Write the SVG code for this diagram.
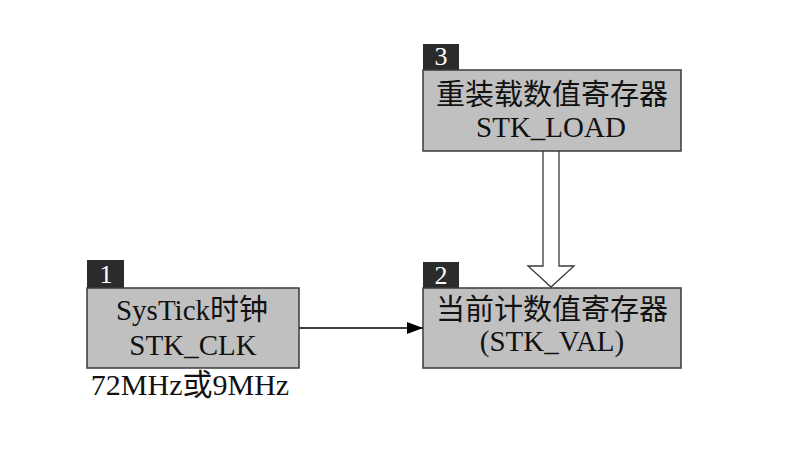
<svg xmlns="http://www.w3.org/2000/svg" width="803" height="449" viewBox="0 0 803 449">
<style>
.box{fill:#c0c0c0;stroke:#3a3a3a;stroke-width:1.5}
.tag{fill:#2b2b2b}
.t{font-family:"Liberation Serif","Noto Sans CJK SC",serif;font-size:29px;fill:#111;text-anchor:middle}
.n{font-family:"Liberation Serif",serif;font-size:26px;fill:#fff;text-anchor:middle}
</style>
<defs>
<marker id="ah" markerWidth="16" markerHeight="12" refX="16" refY="6" orient="auto" markerUnits="userSpaceOnUse">
<path d="M0,0 L16,6 L0,12 Z" fill="#000"/>
</marker>
</defs>
<rect width="803" height="449" fill="#fff"/>
<g id="connectors">
<line x1="299" y1="328" x2="423" y2="328" stroke="#000" stroke-width="1.3" marker-end="url(#ah)"/>
<path d="M543,151 L543,266 L528,266 L551,287 L574,266 L559,266 L559,151" fill="#fff" stroke="#3a3a3a" stroke-width="1.3"/>
</g>
<g id="node1">
<rect class="tag" x="87" y="260" width="37" height="28"/>
<text class="n" x="106" y="283">1</text>
<rect class="box" x="87" y="288" width="212" height="80"/>
<text class="t" x="192" y="320">SysTick时钟</text>
<text class="t" x="193" y="355">STK_CLK</text>
<text class="t" x="190" y="395" style="font-size:30px">72MHz或9MHz</text>
</g>
<g id="node3">
<rect class="tag" x="423" y="44" width="36" height="26"/>
<text class="n" x="441" y="65">3</text>
<rect class="box" x="423" y="70" width="258" height="81"/>
<text class="t" x="552" y="105">重装载数值寄存器</text>
<text class="t" x="551" y="137">STK_LOAD</text>
</g>
<g id="node2">
<rect class="tag" x="423" y="262" width="36" height="26"/>
<text class="n" x="441" y="284">2</text>
<rect class="box" x="423" y="288" width="258" height="80"/>
<text class="t" x="552" y="320">当前计数值寄存器</text>
<text class="t" x="552" y="351">(STK_VAL)</text>
</g>
</svg>
